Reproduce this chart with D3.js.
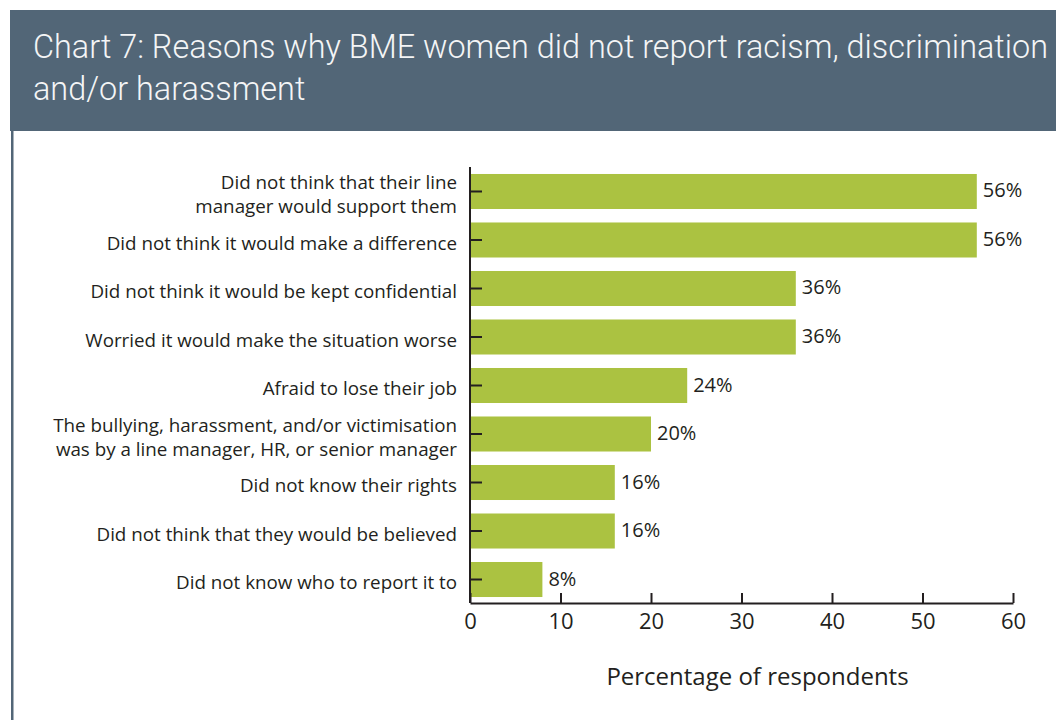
<!DOCTYPE html>
<html>
<head>
<meta charset="utf-8">
<script src="https://cdn.jsdelivr.net/npm/d3@7"></script>
<style>
  html, body { margin: 0; padding: 0; background: #ffffff; }
  svg { display: block; }
</style>
</head>
<body>
<svg id="chart" width="1056" height="720"></svg>
<script>
// Survey reasons (each entry may span two lines) and share of respondents (%)
const reasons = [
  ["Did not think that their line", "manager would support them"],
  ["Did not think it would make a difference"],
  ["Did not think it would be kept confidential"],
  ["Worried it would make the situation worse"],
  ["Afraid to lose their job"],
  ["The bullying, harassment, and/or victimisation", "was by a line manager, HR, or senior manager"],
  ["Did not know their rights"],
  ["Did not think that they would be believed"],
  ["Did not know who to report it to"]
];
const percentages = [56, 56, 36, 36, 24, 20, 16, 16, 8];
const xTicks = [0, 10, 20, 30, 40, 50, 60];

const titleLines = [
  "Chart 7: Reasons why BME women did not report racism, discrimination",
  "and/or harassment"
];
const axisTitle = "Percentage of respondents";

const svg = d3.select("#chart");
const ink = "#231f20";
const slate = "#526677";
const barFill = "#abc241";
const bodyFont = "'Open Sans', sans-serif";

// Header band with the title
svg.append("rect")
  .attr("x", 10).attr("y", 10)
  .attr("width", 1046).attr("height", 121)
  .attr("fill", slate);
svg.append("rect")
  .attr("x", 11).attr("y", 131)
  .attr("width", 2.5).attr("height", 589)
  .attr("fill", slate);

svg.append("g")
  .selectAll("text")
  .data(titleLines)
  .join("text")
  .attr("x", 33)
  .attr("y", (d, i) => 58 + i * 42)
  .attr("fill", "#f4f5f6")
  .attr("font-family", "Roboto, sans-serif")
  .attr("font-size", 32.4)
  .attr("font-weight", 300)
  .text(d => d);

// Plot geometry
const plot = { left: 470, right: 1013, top: 167, bottom: 603 };

const x = d3.scaleLinear()
  .domain([0, 60])
  .range([plot.left, plot.right]);

const y = d3.scaleBand()
  .domain(d3.range(reasons.length))
  .range([plot.top, plot.bottom + 1])
  .paddingInner(0.278)
  .paddingOuter(0.144);

// Bars
svg.append("g")
  .selectAll("rect")
  .data(percentages)
  .join("rect")
  .attr("x", x(0))
  .attr("y", (d, i) => y(i))
  .attr("width", d => x(d) - x(0))
  .attr("height", y.bandwidth())
  .attr("fill", barFill);

// Value labels
svg.append("g")
  .selectAll("text")
  .data(percentages)
  .join("text")
  .attr("x", d => x(d) + 6)
  .attr("y", (d, i) => y(i) + y.bandwidth() / 2 - 1)
  .attr("dy", "0.35em")
  .attr("fill", ink)
  .attr("font-family", bodyFont)
  .attr("font-size", 20)
  .text(d => d + "%");

// Category axis: ticks point inwards over the bars
const yAxis = d3.axisLeft(y)
  .tickSize(-12)
  .tickFormat("");
const gy = svg.append("g")
  .attr("transform", `translate(${plot.left},0)`)
  .call(yAxis);
gy.select(".domain")
  .attr("d", `M0,${plot.top}V${plot.bottom}`)
  .attr("stroke", ink)
  .attr("stroke-width", 2);
gy.selectAll(".tick line").attr("stroke", ink).attr("stroke-width", 2);

// Category labels, right aligned, multi-line where needed
const labelG = svg.append("g")
  .attr("font-family", bodyFont)
  .attr("font-size", 18.8)
  .attr("fill", ink)
  .attr("text-anchor", "end");
reasons.forEach((lines, i) => {
  const cy = y(i) + y.bandwidth() / 2 + 3;
  const lineH = 24;
  const t = labelG.append("text").attr("x", 457);
  lines.forEach((ln, j) => {
    t.append("tspan")
      .attr("x", 457)
      .attr("y", cy + (j - (lines.length - 1) / 2) * lineH)
      .attr("dy", "0.35em")
      .text(ln);
  });
});

// Value axis at the bottom, ticks pointing up
const xAxis = d3.axisBottom(x)
  .tickValues(xTicks)
  .tickSize(-10)
  .tickSizeOuter(0)
  .tickPadding(8);
const gx = svg.append("g")
  .attr("transform", `translate(0,${plot.bottom})`)
  .call(xAxis);
gx.select(".domain").attr("stroke", ink).attr("stroke-width", 2);
gx.selectAll(".tick line").attr("stroke", ink).attr("stroke-width", 2);
gx.selectAll(".tick text")
  .attr("fill", ink)
  .attr("font-family", bodyFont)
  .attr("font-size", 22)
  .attr("dy", "0.74em")
  .attr("y", 10);

// Axis title
svg.append("text")
  .attr("x", (plot.left + plot.right) / 2 + 16)
  .attr("y", 685)
  .attr("text-anchor", "middle")
  .attr("fill", ink)
  .attr("font-family", bodyFont)
  .attr("font-size", 24)
  .text(axisTitle);
</script>
</body>
</html>
